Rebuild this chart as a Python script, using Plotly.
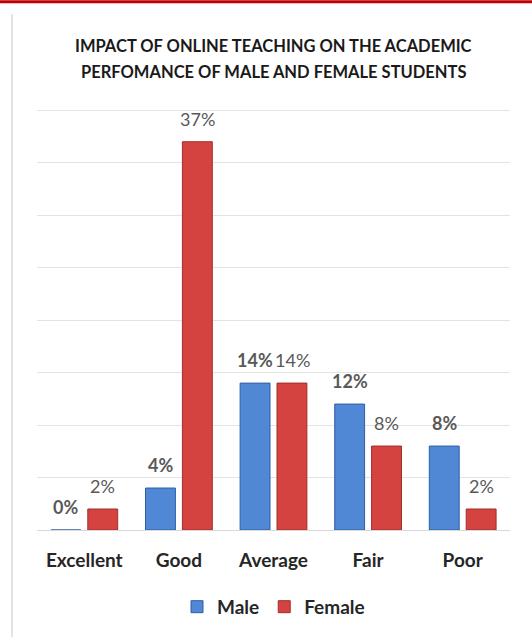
import plotly.graph_objects as go

categories = ["Excellent", "Good", "Average", "Fair", "Poor"]
male = [0, 4, 14, 12, 8]
female = [2, 37, 14, 8, 2]
male_labels = ["0%", "4%", "14%", "12%", "8%"]
female_labels = ["2%", "37%", "14%", "8%", "2%"]
title_lines = ["IMPACT OF ONLINE TEACHING ON THE ACADEMIC", "PERFOMANCE OF MALE AND FEMALE STUDENTS"]

FONT = "Lato, 'Open Sans', sans-serif"
BLUE = "#5088d6"
RED = "#d4433f"

fig = go.Figure()
fig.add_trace(go.Bar(x=categories, y=male, name="<b>Male</b>",
                     marker=dict(color=BLUE, line=dict(color="#2f5fa3", width=1)), hoverinfo="skip"))
fig.add_trace(go.Bar(x=categories, y=female, name="<b>Female</b>",
                     marker=dict(color=RED, line=dict(color="#a02e2b", width=1)), hoverinfo="skip"))

annotations = []
for c, v, t in zip(categories, male, male_labels):
    annotations.append(dict(x=c, y=v, text="<b>" + t + "</b>", showarrow=False, xshift=-18.5, yshift=23,
                            font=dict(family=FONT, size=18, color="#595959"), xref="x", yref="y"))
for c, v, t in zip(categories, female, female_labels):
    annotations.append(dict(x=c, y=v, text=t, showarrow=False, xshift=18.5, yshift=23,
                            font=dict(family=FONT, size=18, color="#595959"), xref="x", yref="y"))
# chart title, two lines
for i, line in enumerate(title_lines):
    annotations.append(dict(x=0.5, xref="paper", y=1.1385 - i * 0.061, yref="paper", yanchor="middle",
                            text="<b>" + line + "</b>", showarrow=False,
                            font=dict(family=FONT, size=16.5, color="#1a1a1a")))

fig.update_layout(
    width=532, height=637,
    paper_bgcolor="white", plot_bgcolor="white",
    margin=dict(l=37, r=22, t=105, b=106),
    barmode="group", bargap=0.22, bargroupgap=0.19,
    showlegend=True,
    legend=dict(orientation="h", x=0.5, xanchor="center", y=-0.178, yanchor="middle",
                font=dict(family=FONT, size=19, color="#262626"), itemwidth=30, traceorder="normal"),
    xaxis=dict(showline=True, linecolor="#d9d9d9", linewidth=1, ticks="", ticklabelstandoff=13,
               tickfont=dict(family=FONT, size=19, color="#262626"),
               tickprefix="<b>", ticksuffix="</b>"),
    yaxis=dict(range=[0, 40.5], tickvals=[5, 10, 15, 20, 25, 30, 35, 40], showticklabels=False,
               showgrid=True, gridcolor="#e3e3e3", gridwidth=1, zeroline=False),
    annotations=annotations,
    shapes=[
        dict(type="line", xref="paper", yref="paper", x0=-0.1, x1=1.1, y0=1.243, y1=1.243,
             line=dict(color="#c00000", width=3)),
        dict(type="line", xref="paper", yref="paper", x0=-0.0529, x1=-0.0529, y0=1.2136, y1=-0.26,
             line=dict(color="#e3e3e3", width=2)),
    ],
)

fig.write_html("out.html", config={"displayModeBar": False},
               post_script="document.body.style.margin='0';")
